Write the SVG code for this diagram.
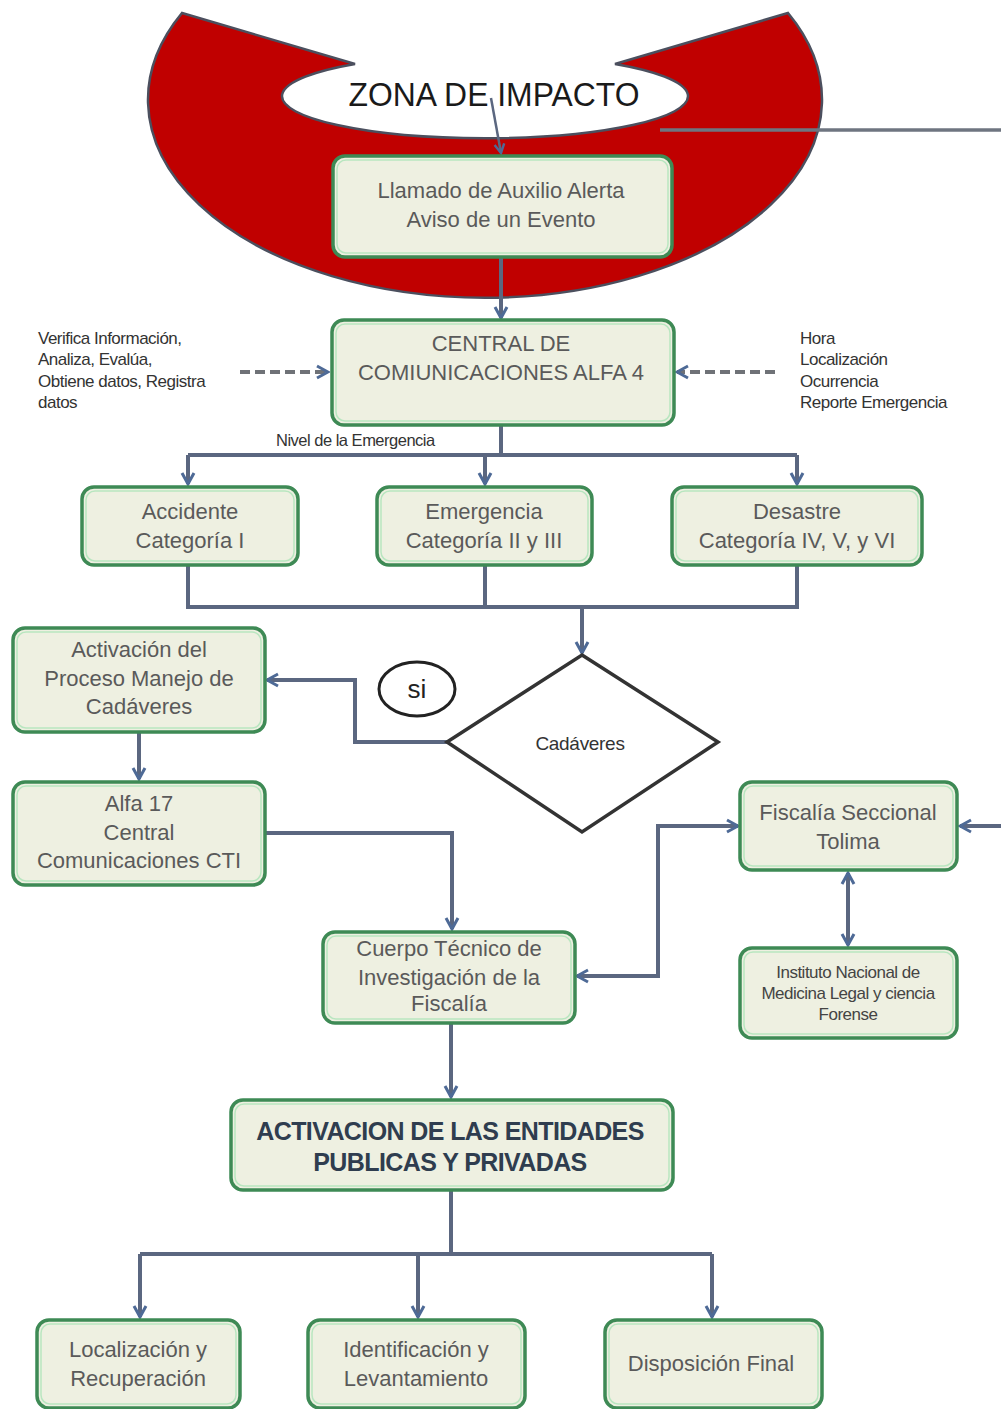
<svg xmlns="http://www.w3.org/2000/svg" width="1001" height="1409" viewBox="0 0 1001 1409">
<style>
.b{fill:#eef0e1;stroke:#3e8a55;stroke-width:3.5}
.bi{fill:none;stroke:#b9e6c0;stroke-width:1.5}
.t{font-family:"Liberation Sans",Arial,sans-serif;font-size:22px;fill:#5a5a5a;text-anchor:middle}
.s{font-family:"Liberation Sans",Arial,sans-serif;font-size:17px;fill:#333;letter-spacing:-0.5px}
.m{font-family:"Liberation Sans",Arial,sans-serif;font-size:17px;fill:#444;text-anchor:middle;letter-spacing:-0.5px}
.c{fill:none;stroke:#5b6780;stroke-width:4}
.d{fill:none;stroke:#6f7277;stroke-width:4;stroke-dasharray:10 5}
</style>
<defs>
<marker id="ah" viewBox="0 0 16 16" refX="14" refY="8" markerWidth="16" markerHeight="16" markerUnits="userSpaceOnUse" orient="auto-start-reverse">
<path d="M3,2 L14,8 L3,14" fill="none" stroke="#4e6a96" stroke-width="3"/>
</marker>
<marker id="ahs" viewBox="0 0 16 16" refX="14" refY="8" markerWidth="13" markerHeight="13" markerUnits="userSpaceOnUse" orient="auto-start-reverse">
<path d="M3,2 L14,8 L3,14" fill="none" stroke="#4e6a96" stroke-width="3"/>
</marker>
</defs>
<rect width="1001" height="1409" fill="#fff"/>

<g id="zona">
<path d="M182,13 A337,198 0 1 0 788,13 L615,64 A203,42 0 1 1 355,64 Z" fill="#c00000" stroke="#4b4f5e" stroke-width="2.5"/>
<text x="494" y="106" font-family="Liberation Sans,Arial,sans-serif" font-size="34" fill="#1a1a1a" text-anchor="middle" textLength="291" lengthAdjust="spacingAndGlyphs">ZONA DE IMPACTO</text>
</g>

<g id="connectors">
<path d="M491,98 L501,153" fill="none" stroke="#5b6780" stroke-width="2.5" marker-end="url(#ahs)"/>
<path d="M660,130 H1001" fill="none" stroke="#6e7580" stroke-width="3.5"/>
<path class="c" d="M501,257 V318" marker-end="url(#ah)"/>
<path class="d" d="M240,372 H328" marker-end="url(#ah)"/>
<path class="d" d="M775,372 H677" marker-end="url(#ah)"/>
<path class="c" d="M501,425 V455 M188,455 H797"/>
<path class="c" d="M188,455 V484" marker-end="url(#ah)"/>
<path class="c" d="M485,455 V484" marker-end="url(#ah)"/>
<path class="c" d="M797,455 V484" marker-end="url(#ah)"/>
<path class="c" d="M188,565 V607 H797 V565 M485,565 V607"/>
<path class="c" d="M582,607 V653" marker-end="url(#ah)"/>
<path class="c" d="M447,742 H355 V680 H267" marker-end="url(#ah)"/>
<path class="c" d="M139,732 V779" marker-end="url(#ah)"/>
<path class="c" d="M265,833 H452 V929" marker-end="url(#ah)"/>
<path class="c" d="M577,976 H658 V826 H738" marker-start="url(#ah)" marker-end="url(#ah)"/>
<path class="c" d="M1001,826 H960" marker-end="url(#ah)"/>
<path class="c" d="M848,873 V945" marker-start="url(#ah)" marker-end="url(#ah)"/>
<path class="c" d="M451,1023 V1097" marker-end="url(#ah)"/>
<path class="c" d="M451,1190 V1254 M140,1254 H712"/>
<path class="c" d="M140,1254 V1317" marker-end="url(#ah)"/>
<path class="c" d="M418,1254 V1317" marker-end="url(#ah)"/>
<path class="c" d="M712,1254 V1317" marker-end="url(#ah)"/>
</g>

<g id="llamado">
<rect class="b" x="333" y="156" width="339" height="101" rx="12"/>
<rect class="bi" x="337" y="160" width="331" height="93" rx="9"/>
<text class="t" x="501" y="198">Llamado de Auxilio Alerta</text>
<text class="t" x="501" y="227">Aviso de un Evento</text>
</g>

<g id="central">
<rect class="b" x="332" y="320" width="342" height="105" rx="12"/>
<rect class="bi" x="336" y="324" width="334" height="97" rx="9"/>
<text class="t" x="501" y="351">CENTRAL DE</text>
<text class="t" x="501" y="380">COMIUNICACIONES ALFA 4</text>
</g>

<g id="nota-izq">
<text class="s" x="38" y="344">Verifica Información,</text>
<text class="s" x="38" y="365">Analiza, Evalúa,</text>
<text class="s" x="38" y="387">Obtiene datos, Registra</text>
<text class="s" x="38" y="408">datos</text>
</g>

<g id="nota-der">
<text class="s" x="800" y="344">Hora</text>
<text class="s" x="800" y="365">Localización</text>
<text class="s" x="800" y="387">Ocurrencia</text>
<text class="s" x="800" y="408">Reporte Emergencia</text>
</g>

<g id="nivel">
<text class="s" x="276" y="446" style="font-size:16.5px">Nivel de la Emergencia</text>
</g>

<g id="accidente">
<rect class="b" x="82" y="487" width="216" height="78" rx="12"/>
<rect class="bi" x="86" y="491" width="208" height="70" rx="9"/>
<text class="t" x="190" y="519">Accidente</text>
<text class="t" x="190" y="548">Categoría I</text>
</g>

<g id="emergencia">
<rect class="b" x="377" y="487" width="215" height="78" rx="12"/>
<rect class="bi" x="381" y="491" width="207" height="70" rx="9"/>
<text class="t" x="484" y="519">Emergencia</text>
<text class="t" x="484" y="548">Categoría II y III</text>
</g>

<g id="desastre">
<rect class="b" x="672" y="487" width="250" height="78" rx="12"/>
<rect class="bi" x="676" y="491" width="242" height="70" rx="9"/>
<text class="t" x="797" y="519">Desastre</text>
<text class="t" x="797" y="548">Categoría IV, V, y VI</text>
</g>

<g id="cadaveres">
<path d="M582,655 L718,742 L582,832 L447,742 Z" fill="#fff" stroke="#333" stroke-width="3.5"/>
<text x="580" y="750" font-family="Liberation Sans,Arial,sans-serif" font-size="19" fill="#333" text-anchor="middle" letter-spacing="-0.3">Cadáveres</text>
</g>

<g id="si">
<ellipse cx="417" cy="689" rx="38" ry="27" fill="#fff" stroke="#222" stroke-width="3"/>
<text x="417" y="698" font-family="Liberation Sans,Arial,sans-serif" font-size="26" fill="#222" text-anchor="middle">si</text>
</g>

<g id="activacion">
<rect class="b" x="13" y="628" width="252" height="104" rx="12"/>
<rect class="bi" x="17" y="632" width="244" height="96" rx="9"/>
<text class="t" x="139" y="657">Activación del</text>
<text class="t" x="139" y="686">Proceso Manejo de</text>
<text class="t" x="139" y="714">Cadáveres</text>
</g>

<g id="alfa17">
<rect class="b" x="13" y="782" width="252" height="103" rx="12"/>
<rect class="bi" x="17" y="786" width="244" height="95" rx="9"/>
<text class="t" x="139" y="811">Alfa 17</text>
<text class="t" x="139" y="840">Central</text>
<text class="t" x="139" y="868">Comunicaciones CTI</text>
</g>

<g id="cuerpo">
<rect class="b" x="323" y="932" width="252" height="91" rx="12"/>
<rect class="bi" x="327" y="936" width="244" height="83" rx="9"/>
<text class="t" x="449" y="956">Cuerpo Técnico de</text>
<text class="t" x="449" y="985">Investigación de la</text>
<text class="t" x="449" y="1011">Fiscalía</text>
</g>

<g id="fiscalia">
<rect class="b" x="740" y="782" width="217" height="88" rx="12"/>
<rect class="bi" x="744" y="786" width="209" height="80" rx="9"/>
<text class="t" x="848" y="820">Fiscalía Seccional</text>
<text class="t" x="848" y="849">Tolima</text>
</g>

<g id="instituto">
<rect class="b" x="740" y="948" width="217" height="90" rx="12"/>
<rect class="bi" x="744" y="952" width="209" height="82" rx="9"/>
<text class="m" x="848" y="978">Instituto Nacional de</text>
<text class="m" x="848" y="999">Medicina Legal y ciencia</text>
<text class="m" x="848" y="1020">Forense</text>
</g>

<g id="entidades">
<rect class="b" x="231" y="1100" width="442" height="90" rx="12"/>
<rect class="bi" x="235" y="1104" width="434" height="82" rx="9"/>
<text class="t" x="450" y="1140" style="font-weight:bold;fill:#2f3d4f;font-size:25px;letter-spacing:-0.6px">ACTIVACION DE LAS ENTIDADES</text>
<text class="t" x="450" y="1171" style="font-weight:bold;fill:#2f3d4f;font-size:25px;letter-spacing:-0.6px">PUBLICAS Y PRIVADAS</text>
</g>

<g id="localizacion">
<rect class="b" x="37" y="1320" width="203" height="88" rx="12"/>
<rect class="bi" x="41" y="1324" width="195" height="80" rx="9"/>
<text class="t" x="138" y="1357">Localización y</text>
<text class="t" x="138" y="1386">Recuperación</text>
</g>

<g id="identificacion">
<rect class="b" x="308" y="1320" width="217" height="88" rx="12"/>
<rect class="bi" x="312" y="1324" width="209" height="80" rx="9"/>
<text class="t" x="416" y="1357">Identificación y</text>
<text class="t" x="416" y="1386">Levantamiento</text>
</g>

<g id="disposicion">
<rect class="b" x="605" y="1320" width="217" height="88" rx="12"/>
<rect class="bi" x="609" y="1324" width="209" height="80" rx="9"/>
<text class="t" x="711" y="1371">Disposición Final</text>
</g>
</svg>
